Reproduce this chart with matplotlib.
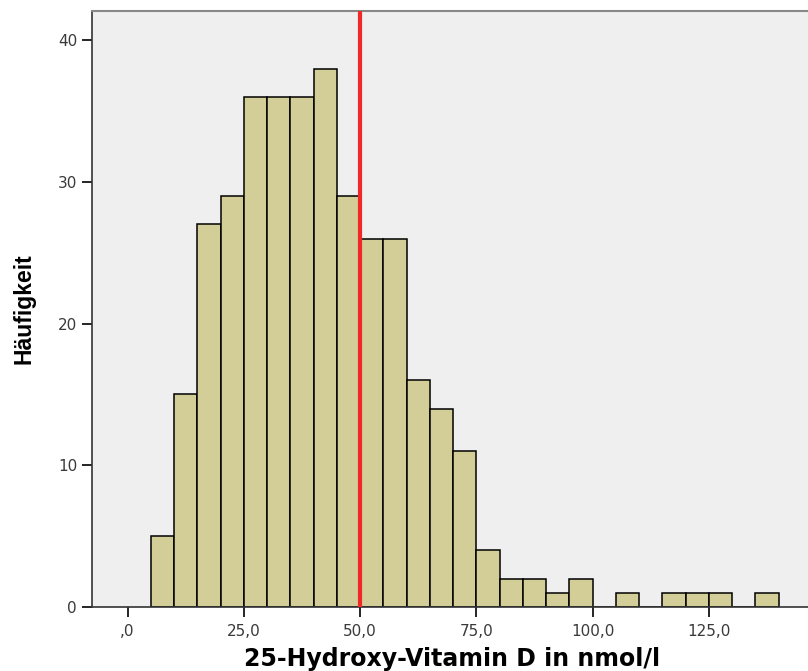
import numpy as np
import matplotlib
matplotlib.use("Agg")
import matplotlib.pyplot as plt

# bin edges (nmol/l) and counts
bin_edges = np.arange(5, 145, 5)
counts = [5, 15, 27, 29, 36, 36, 36, 38, 29, 26, 26, 16, 14, 11,
          4, 2, 2, 1, 2, 0, 1, 0, 1, 1, 1, 0, 1]
ref_line = 50.0

x_ticks = [0, 25, 50, 75, 100, 125]
x_ticklabels = [",0", "25,0", "50,0", "75,0", "100,0", "125,0"]
y_ticks = [0, 10, 20, 30, 40]

plt.rcParams['font.family'] = ['DejaVu Sans']

fig = plt.figure(figsize=(8.08, 6.71), dpi=100)
ax = fig.add_axes([0.1135, 0.0954, 0.8865, 0.8882])
ax.set_facecolor('#efefef')

left = bin_edges[:-1]
widths = np.diff(bin_edges)
ax.bar(left, counts, width=widths, align='edge', color='#d3ce97',
       edgecolor='black', linewidth=1.1, zorder=2)

ax.axvline(ref_line, color='#f02828', linewidth=3, zorder=3)

ax.set_xlim(-7.7, 146.3)
ax.set_ylim(0, 42.06)
ax.set_xticks(x_ticks)
ax.set_xticklabels(x_ticklabels)
ax.set_yticks(y_ticks)
ax.tick_params(axis='both', direction='out', length=7, width=1.2,
               labelsize=11, labelcolor='#3a3a3a')
ax.tick_params(axis='x', pad=5)

for s in ['left', 'bottom']:
    ax.spines[s].set_linewidth(1.2)
    ax.spines[s].set_color('#333333')
ax.spines['top'].set_color('#888888')
ax.spines['top'].set_linewidth(1.5)
ax.spines['right'].set_visible(False)

ax.set_xlabel('25-Hydroxy-Vitamin D in nmol/l', fontsize=17, fontweight='bold')
ax.xaxis.set_label_coords(0.503, -0.067)
ax.set_ylabel('Häufigkeit', fontsize=16.5, fontweight='bold',
              family='Liberation Sans')
ax.yaxis.set_label_coords(-0.078, 0.5)

fig.savefig('out.png', dpi=100)
